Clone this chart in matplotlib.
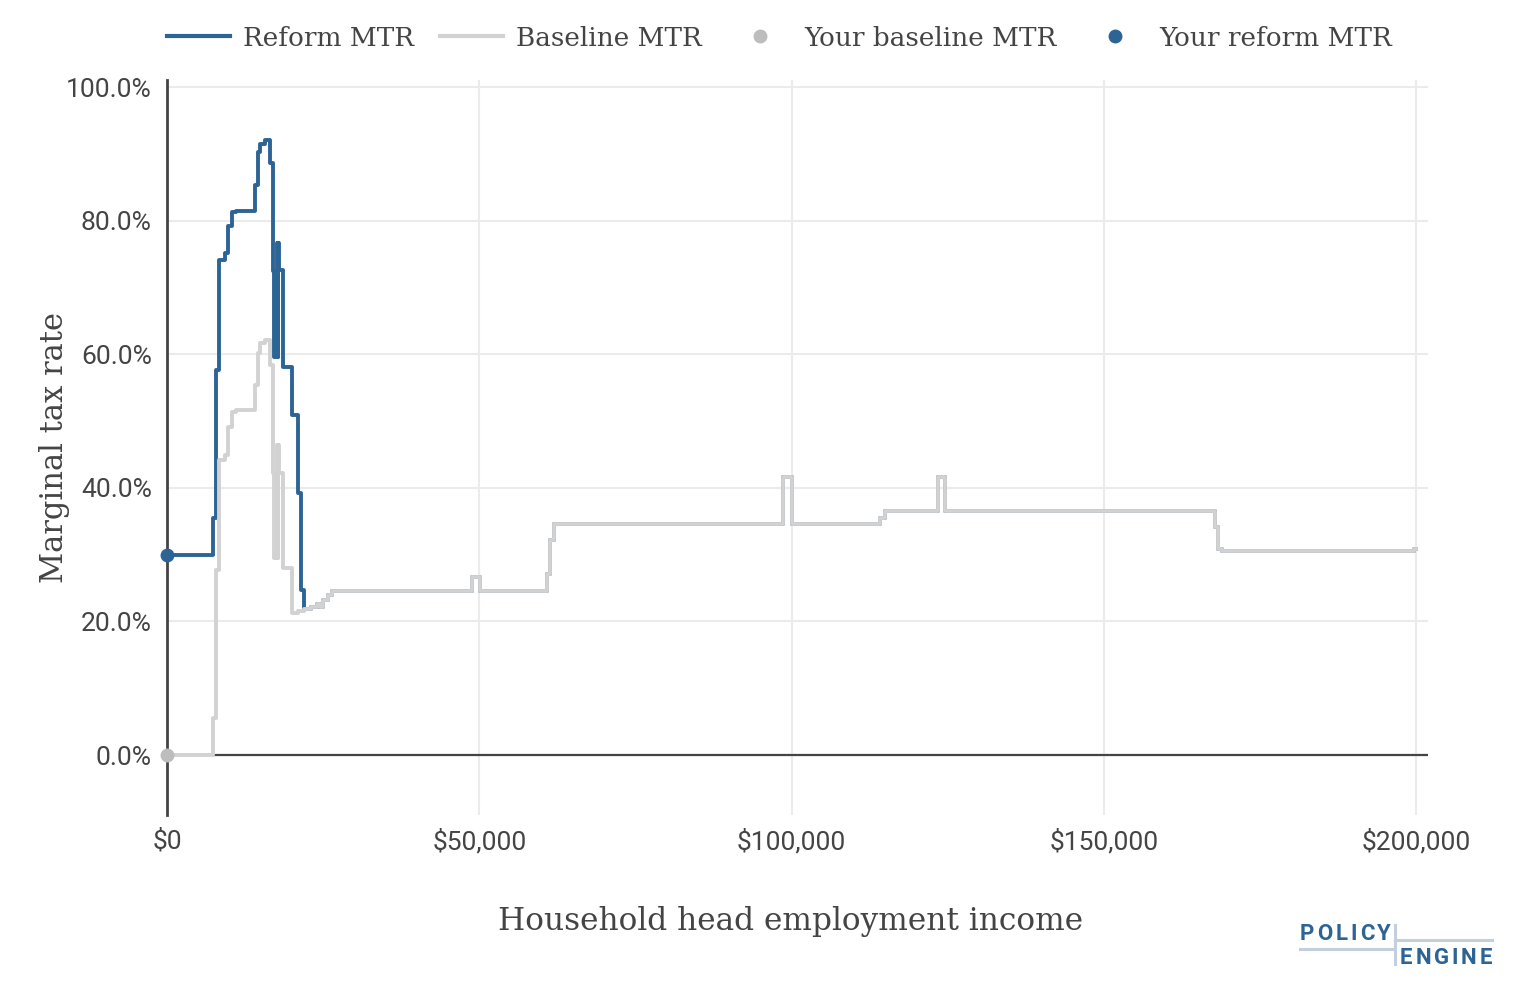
import numpy as np
import matplotlib.pyplot as plt
from matplotlib.lines import Line2D
from matplotlib.ticker import FuncFormatter

BLUE = "#2C6496"
GREY = "#D2D2D2"
DOT_GREY = "#BDBDBD"
TEXT = "#444444"

# Baseline marginal tax rate (%), step values starting at each income
base_income = [0, 7400, 7900, 8400, 9300, 9800, 10400, 11000, 14100, 14500,
               14900, 15700, 16500, 16900, 17100, 17300, 17400, 17600, 17700,
               17850, 18000, 18600, 20000, 21000, 22000, 23000, 24000, 24500,
               25000, 25800, 26400, 48800, 50100, 60800, 61300, 61900, 98700,
               100000, 114200, 115000, 123500, 124600, 167800, 168300, 168900,
               199600, 200000]
base_mtr = [0.0, 5.5, 27.7, 44.2, 44.9, 49.1, 51.4, 51.6, 55.4, 60.2,
            61.7, 62.1, 58.4, 42.2, 29.5, 42.2, 29.5, 46.4, 29.5,
            46.4, 42.2, 28.0, 21.2, 21.5, 21.8, 22.1, 22.6, 22.2,
            23.2, 24.0, 24.6, 26.6, 24.6, 27.1, 32.2, 34.6, 41.6,
            34.6, 35.5, 36.6, 41.6, 36.6, 34.2, 30.9, 30.5,
            30.9, 30.9]

# Reform marginal tax rate (%) where it differs from baseline
reform_income = [0, 7400, 7900, 8400, 9300, 9800, 10400, 11000, 14100, 14500,
                 14900, 15700, 16500, 16900, 17100, 17300, 17400, 17600, 17700,
                 17850, 18000, 18600, 20000, 21000, 21500]
reform_mtr = [30.0, 35.5, 57.6, 74.1, 75.1, 79.2, 81.3, 81.5, 85.3, 90.2,
              91.5, 92.1, 88.6, 72.4, 59.6, 72.4, 59.6, 76.6, 59.6,
              76.6, 72.6, 58.1, 50.9, 39.2, 24.7]
reform_join = 21900  # reform equals baseline from here on

your_income = 0
your_baseline = 0.0
your_reform = 30.0

base_income = np.array(base_income)
base_mtr = np.array(base_mtr)
keep = base_income >= reform_join
ref_x = np.concatenate([reform_income, [reform_join], base_income[keep]])
ref_y = np.concatenate([reform_mtr, [np.interp(reform_join, base_income, base_mtr)], base_mtr[keep]])

fig = plt.figure(figsize=(15.22, 9.88), dpi=100)
ax = fig.add_axes([167 / 1522, 1 - 815 / 988, 1261 / 1522, 735 / 988])

ax.plot(ref_x, ref_y, drawstyle="steps-post", color=BLUE, lw=2.8, zorder=3)
ax.plot(base_income, base_mtr, drawstyle="steps-post", color=GREY, lw=2.8, zorder=4)
ax.plot([your_income], [your_baseline], "o", color=DOT_GREY, ms=9, zorder=6, clip_on=False)
ax.plot([your_income], [your_reform], "o", color=BLUE, ms=9, zorder=6, clip_on=False)

ax.set_xlim(0, 201900)
ax.set_ylim(-8.98, 101.05)
ax.set_xticks([0, 50000, 100000, 150000, 200000])
ax.set_yticks([0, 20, 40, 60, 80, 100])
ax.xaxis.set_major_formatter(FuncFormatter(lambda v, p: f"${v:,.0f}"))
ax.yaxis.set_major_formatter(FuncFormatter(lambda v, p: f"{v:.1f}%"))
ax.grid(True, color="#EBEBEB", lw=1.5)
ax.set_axisbelow(True)
for s in ["top", "right", "bottom"]:
    ax.spines[s].set_visible(False)
ax.spines["left"].set_color(TEXT)
ax.spines["left"].set_linewidth(2)
ax.spines["left"].set_zorder(5)
ax.axhline(0, color=TEXT, lw=1.6, zorder=2)
ax.tick_params(length=0, labelsize=19, labelcolor=TEXT)
ax.tick_params(axis="y", pad=11)
ax.tick_params(axis="x", pad=10)
for lab in ax.get_xticklabels() + ax.get_yticklabels():
    lab.set_family("Roboto")

ax.set_xlabel("Household head employment income", family="DejaVu Serif",
              fontsize=22.5, color=TEXT)
ax.set_ylabel("Marginal tax rate", family="DejaVu Serif", fontsize=22, color=TEXT)
ax.xaxis.set_label_coords(0.4945, -0.124)
ax.yaxis.set_label_coords(-0.077, 0.5)

handles = [
    Line2D([], [], color=BLUE, lw=3),
    Line2D([], [], color=GREY, lw=3),
    Line2D([], [], ls="none", marker="o", color=DOT_GREY, ms=9),
    Line2D([], [], ls="none", marker="o", color=BLUE, ms=9),
]
labels = ["Reform MTR", "Baseline MTR", "Your baseline MTR", "Your reform MTR"]
leg = fig.legend(handles, labels, loc="center left", bbox_to_anchor=(167 / 1522, 1 - 38 / 988),
                 ncol=4, frameon=False, handlelength=2.4, handletextpad=0.5,
                 columnspacing=1.0, borderaxespad=0, borderpad=0,
                 prop={"family": "DejaVu Serif", "size": 18.9})
for t in leg.get_texts():
    t.set_color(TEXT)

# PolicyEngine logo
def fx(px):
    return px / 1522

def fy(py):
    return 1 - py / 988

logo_line = "#C3CFDC"
fig.add_artist(Line2D([fx(1300), fx(1395)], [fy(949), fy(949)], color=logo_line, lw=2.2))
fig.add_artist(Line2D([fx(1395), fx(1395)], [fy(925), fy(964)], color=logo_line, lw=2.2))
fig.add_artist(Line2D([fx(1395), fx(1492)], [fy(940), fy(940)], color=logo_line, lw=2.2))

renderer = fig.canvas.get_renderer()


def tracked(word, x0, x1, ypx):
    # lay letters out with even gaps between them so the word spans x0..x1
    arts = [fig.text(0, fy(ypx), ch, color=BLUE, family="Roboto", weight="bold",
                     fontsize=16, ha="left", va="center") for ch in word]
    widths = [a.get_window_extent(renderer).width for a in arts]
    gap = (x1 - x0 - sum(widths)) / (len(word) - 1)
    x = x0
    for a, w in zip(arts, widths):
        a.set_x(fx(x))
        x += w + gap


tracked("POLICY", 1300, 1391, 933.5)
tracked("ENGINE", 1400, 1492, 957.5)

fig.savefig("out.png", dpi=100, facecolor="white")
